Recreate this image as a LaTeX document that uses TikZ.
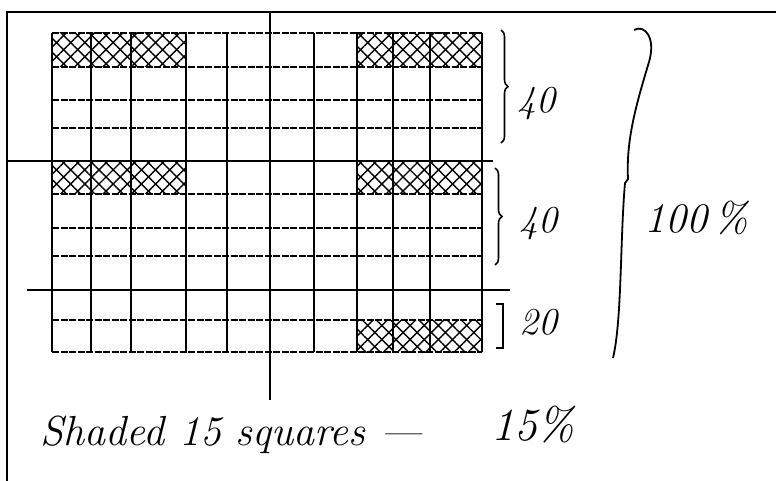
\documentclass[tikz,border=0pt]{standalone}
\usetikzlibrary{patterns.meta,decorations.pathreplacing}
\begin{document}
\begin{tikzpicture}[x=1pt,y=-1pt,
  frame/.style={line width=2.4pt},
  vline/.style={line width=1.8pt},
  hline/.style={line width=1.3pt,dash pattern=on 7pt off 1.5pt},
  hatch/.style={pattern={Lines[angle=45,distance=10pt,line width=1.4pt]},
    postaction={pattern={Lines[angle=-45,distance=10pt,line width=1.4pt]}}},
  hand/.style={font=\fontsize{38}{40}\selectfont\itshape},
  curly/.style={decorate,decoration={brace,amplitude=7pt},line width=1.6pt}]
\useasboundingbox (0,0) rectangle (776,481);
% frame and the two cutting lines
\draw[frame] (776,12) -- (7,12) -- (7,481);
\draw[frame] (7,161) -- (493,161);
\draw[frame] (27,290) -- (510,290);
\draw[frame] (270,12) -- (270,400);
% shaded squares
\fill[hatch] (52,33) rectangle (186,67);
\fill[hatch] (357,33) rectangle (482,67);
\fill[hatch] (52,161) rectangle (186,194);
\fill[hatch] (357,161) rectangle (482,194);
\fill[hatch] (357,320) rectangle (482,352);
% the 10 x 10 grid
\foreach \x in {52,91,131,186,227,270,314,357,393,430,482} { \draw[vline] (\x,33) -- (\x,352); }
\foreach \y in {33,67,100,128,161,194,228,256,290,320,352} { \draw[hline] (52,\y) -- (482,\y); }
% braces and labels
\coordinate (b1t) at (501,30); \coordinate (b1b) at (501,143);
\coordinate (b2t) at (495,168); \coordinate (b2b) at (495,265);
\draw[curly] (b1t) -- (b1b);
\draw[curly] (b2t) -- (b2b);
\draw[line width=1.6pt] (496,304) -- (503,304) -- (503,348) -- (496,348);
\node[hand,anchor=base] (forty1) at (536,113) {40};
\node[hand,anchor=base] (forty2) at (538,232) {40};
\node[hand,anchor=base] (twenty) at (538,334) {20};
\draw[line width=1.8pt] (634,30) .. controls (645,24) and (656,38) .. (649,62)
  .. controls (636,105) and (626,140) .. (628,179) -- (625,183)
  .. controls (620,240) and (622,320) .. (613,358);
\node[hand,anchor=base,font=\fontsize{42}{44}\selectfont\itshape] (whole) at (696,232) {100\,\%};
% result
\node[hand,anchor=base west,font=\fontsize{42}{44}\selectfont\itshape] (shaded) at (37,445) {Shaded 15 squares ---};
\node[hand,anchor=base,font=\fontsize{46}{48}\selectfont\itshape] (part) at (533,440) {15\%};
\end{tikzpicture}
\end{document}
